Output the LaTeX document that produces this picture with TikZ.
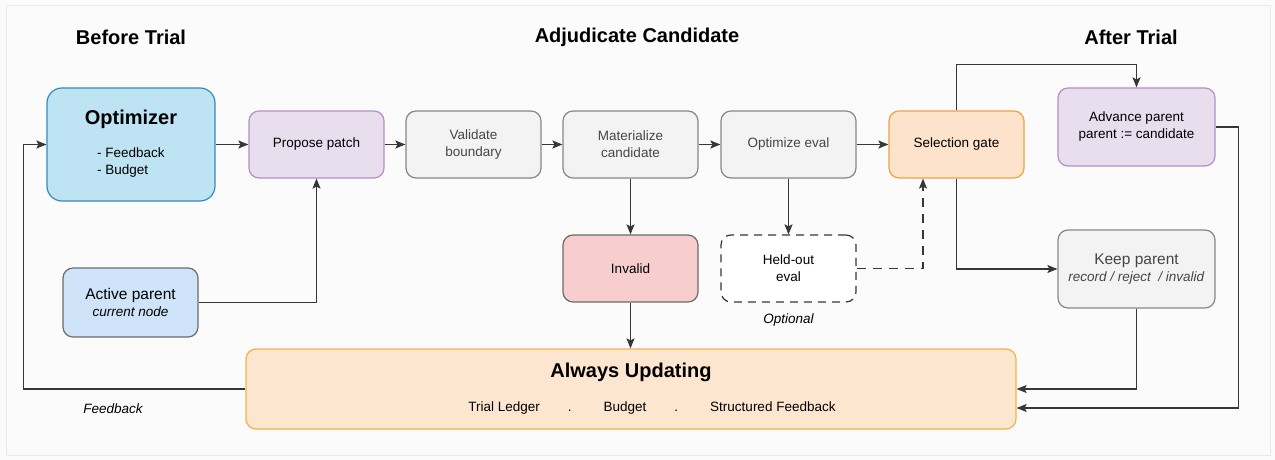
\documentclass[tikz,border=0pt]{standalone}
\usepackage{fontspec}
\setmainfont{Liberation Sans}
\usetikzlibrary{arrows.meta}

\definecolor{bgfill}{RGB}{251,251,251}
\definecolor{bgline}{RGB}{226,236,246}
\definecolor{optfill}{RGB}{190,227,242}
\definecolor{optline}{RGB}{52,140,190}
\definecolor{propfill}{RGB}{233,222,238}
\definecolor{propline}{RGB}{182,142,200}
\definecolor{stepfill}{RGB}{243,243,243}
\definecolor{stepline}{RGB}{135,135,135}
\definecolor{gatefill}{RGB}{253,227,204}
\definecolor{gateline}{RGB}{234,165,62}
\definecolor{invfill}{RGB}{248,205,205}
\definecolor{actfill}{RGB}{207,228,249}
\definecolor{updfill}{RGB}{253,230,207}
\definecolor{updline}{RGB}{240,180,72}
\definecolor{edgecol}{RGB}{55,55,55}
\definecolor{txtgray}{RGB}{70,70,70}

\begin{document}
\begin{tikzpicture}[x=1pt,y=-1pt,
  box/.style={rounded corners=10pt,draw,line width=1.2pt,minimum width=135pt,minimum height=67pt,align=center,font=\fontsize{13.5}{17}\selectfont},
  stepbox/.style={box,fill=stepfill,draw=stepline,text=txtgray},
  head/.style={font=\fontsize{20}{23}\selectfont\bfseries},
  arr/.style={draw=edgecol,line width=1.3pt,-{Stealth[length=10pt,width=8pt,inset=2pt]}}]
\useasboundingbox[fill=bgfill] (0,0) rectangle (1275,460);
\draw[bgline,line width=0.8pt] (6,5) rectangle (1270,455);

\node[head] at (131,37) (h1) {Before Trial};
\node[head] at (637,37) (h2) {Adjudicate Candidate};
\node[head] at (1131,37) (h3) {After Trial};

\node[box,fill=optfill,draw=optline,rounded corners=15pt,minimum width=168pt,minimum height=113pt] at (131,144.5) (opt)
  {{\fontsize{20}{24}\selectfont\bfseries Optimizer}\\[16pt]\begin{tabular}{@{}l@{}}- Feedback\\- Budget\end{tabular}};
\node[box,fill=propfill,draw=propline] at (316.5,144.5) (prop) {Propose patch};
\node[stepbox] at (473.5,144.5) (valid) {Validate\\boundary};
\node[stepbox] at (630.5,144.5) (mat) {Materialize\\candidate};
\node[stepbox] at (788.5,144.5) (opteval) {Optimize eval};
\node[box,fill=gatefill,draw=gateline] at (956.5,144.5) (gate) {Selection gate};
\node[box,fill=propfill,draw=propline,minimum width=157pt,minimum height=78pt] at (1136.5,127) (adv) {Advance parent\\parent := candidate};
\node[stepbox,minimum width=157pt,minimum height=78pt] at (1136.5,269) (keep)
  {{\fontsize{15.5}{18}\selectfont Keep parent}\\\textit{record / reject~ / invalid}};
\node[box,fill=invfill,draw=stepline!80!black] at (630.5,268.5) (inval) {Invalid};
\node[box,fill=white,draw=edgecol,dash pattern=on 8pt off 6pt] at (788.5,268.5) (held) {Held-out\\eval};
\node[font=\fontsize{13.5}{17}\selectfont\itshape] at (788.5,320) (opt-lbl) {Optional};
\node[box,fill=actfill,draw=stepline!80!black,minimum height=69pt] at (130.5,302.5) (active)
  {{\fontsize{15.5}{18}\selectfont Active parent}\\\textit{current node}};
\node[box,fill=updfill,draw=updline,minimum width=770pt,minimum height=80pt] at (631,389) (upd)
  {{\fontsize{20}{23}\selectfont\bfseries Always Updating}\\[17pt]\hspace*{42pt}Trial Ledger\hspace{28pt}.\hspace{32pt}Budget\hspace{28pt}.\hspace{32pt}Structured Feedback};
\node[font=\fontsize{13.5}{17}\selectfont\itshape] at (113,409) (fb-lbl) {Feedback};

% main line
\draw[arr] (opt) -- (prop);
\draw[arr] (prop) -- (valid);
\draw[arr] (valid) -- (mat);
\draw[arr] (mat) -- (opteval);
\draw[arr] (opteval) -- (gate);
\draw[arr] (active.east) -| (prop.south);
\draw[arr] (mat) -- (inval);
\draw[arr] (opteval) -- (held);
\draw[arr,dash pattern=on 9pt off 7pt] (held.east) -| ([xshift=-33.5pt]gate.south);
% gate outcomes
\draw[arr] (gate.north) -- ++(0,-46) -| (adv.north);
\draw[arr] (gate.south) |- (keep.west);
% updates
\draw[arr] (inval) -- (inval.south |- upd.north);
\draw[arr] (keep.south) |- (upd.east);
\draw[arr] (adv.east) -- ++(23,0) |- ([yshift=-19pt]upd.east);
\draw[arr] (upd.west) -- ++(-222,0) |- (opt.west);
\end{tikzpicture}
\end{document}
